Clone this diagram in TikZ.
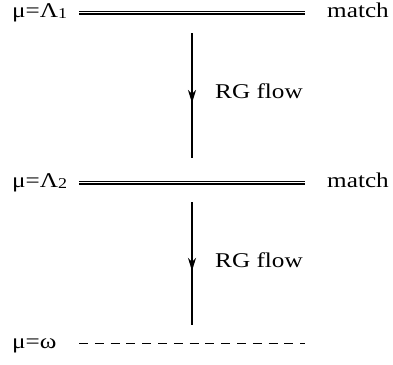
\documentclass[tikz,border=0pt]{standalone}
\usepackage{fontspec}
\setmainfont{Liberation Serif}
\usetikzlibrary{arrows.meta,decorations.markings}

\newcommand\lowidx[1]{\raisebox{-1.5pt}{\fontsize{15}{15}\selectfont #1}}

\tikzset{
  lbl/.style={anchor=base west, inner sep=0pt, font=\fontsize{21}{25}\selectfont, xscale=1.2, transform shape},
  scaleline/.style={double, line width=1.4pt, double distance=1.5pt},
  lowline/.style={line width=1.5pt, dash pattern=on 9pt off 6.8pt},
  flow/.style={line width=1.6pt, postaction={decorate},
    decoration={markings, mark=at position 0.56 with {\arrow{Stealth[length=13pt,width=8pt,inset=4pt]}}}},
}

\begin{document}
\begin{tikzpicture}[x=1pt,y=-1pt,line cap=butt]
    \useasboundingbox (0,0) rectangle (393,364);
    % first matching scale
    \node[lbl] (muA) at (12,17) {μ=Λ\lowidx{1}};
    \coordinate (lineA-l) at (79,12.7);
    \coordinate (lineA-r) at (305,12.7);
    \draw[scaleline] (lineA-l) -- (lineA-r);
    \node[lbl] (matchA) at (327,17) {match};
    % flow down to second scale
    \coordinate (flowA-top) at (192,33);
    \coordinate (flowA-bot) at (192,158);
    \draw[flow] (flowA-top) -- (flowA-bot);
    \node[lbl] (rgA) at (215,98) {RG flow};
    % second matching scale
    \node[lbl] (muB) at (12,187) {μ=Λ\lowidx{2}};
    \coordinate (lineB-l) at (79,182.7);
    \coordinate (lineB-r) at (305,182.7);
    \draw[scaleline] (lineB-l) -- (lineB-r);
    \node[lbl] (matchB) at (327,187) {match};
    % flow down to omega
    \coordinate (flowB-top) at (192,202);
    \coordinate (flowB-bot) at (192,325);
    \draw[flow] (flowB-top) -- (flowB-bot);
    \node[lbl] (rgB) at (215,267) {RG flow};
    % low scale
    \node[lbl] (muC) at (12,348) {μ=ω};
    \coordinate (lineC-l) at (79,343.5);
    \coordinate (lineC-r) at (305,343.5);
    \draw[lowline] (lineC-l) -- (lineC-r);
\end{tikzpicture}
\end{document}
